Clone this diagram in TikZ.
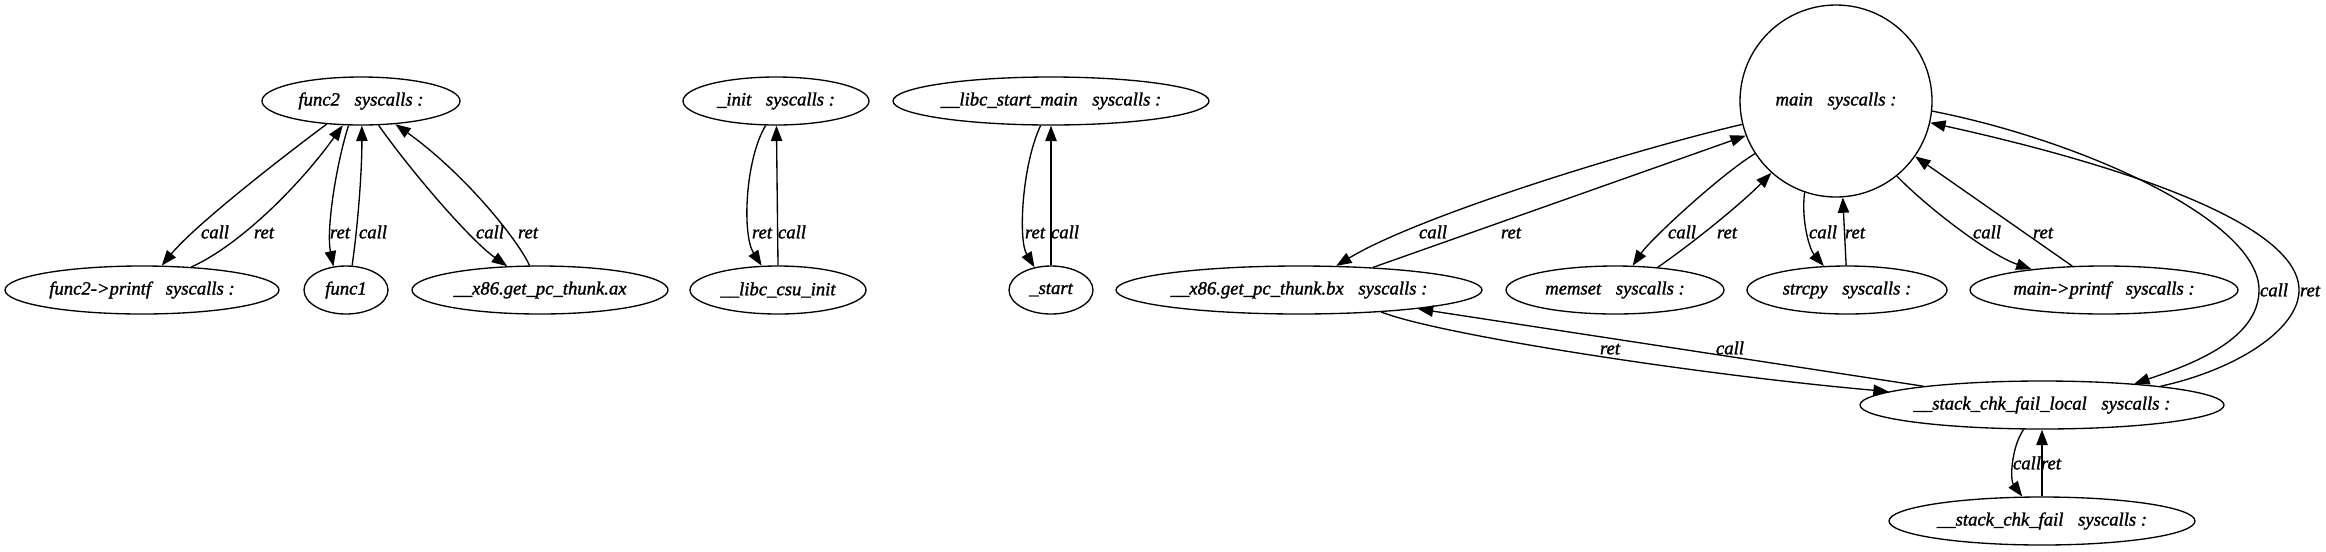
\documentclass[tikz,border=0pt]{standalone}
\usepackage{fontspec}
\setmainfont{Liberation Serif}
\newfontfamily\gvfont{Liberation Serif Italic}[FakeBold=1.4]
\usetikzlibrary{arrows.meta,shapes.geometric}
\newcommand\sg{\hspace{11pt}}
\begin{document}
\begin{tikzpicture}[x=0.75pt,y=-0.75pt,
  fn/.style={draw, ellipse, line width=1pt, inner sep=0pt,
    font=\fontsize{14pt}{16pt}\selectfont\gvfont, minimum height=36pt},
  edgeln/.style={line width=1pt, -{Triangle[length=11.5pt,width=8.5pt]}},
  lbl/.style={font=\fontsize{14pt}{16pt}\selectfont\gvfont, inner sep=0pt,
    text height=9.5pt, text depth=0pt}]
\useasboundingbox (0,0) rectangle (2326,551);

% nodes
\node[fn, minimum width=148.5pt] (func2) at (361,101) {func2\sg syscalls :};
\node[fn, minimum width=205.5pt] (fprintf) at (142,290) {func2->printf\sg syscalls :};
\node[fn, minimum width=63pt] (func1) at (346,290) {func1};
\node[fn, minimum width=192pt] (ax) at (540,290) {\_\_x86.get\_pc\_thunk.ax};
\node[fn, minimum width=139.5pt] (init) at (776,101) {\_init\sg syscalls :};
\node[fn, minimum width=132pt] (csu) at (778,290) {\_\_libc\_csu\_init};
\node[fn, minimum width=237pt] (lsm) at (1051,101) {\_\_libc\_start\_main\sg syscalls :};
\node[fn, minimum width=63pt] (start) at (1051,290) {\_start};
\node[fn, circle, minimum size=144pt] (main) at (1836,101) {main\sg syscalls :};
\node[fn, minimum width=274.5pt] (bx) at (1299,290) {\_\_x86.get\_pc\_thunk.bx\sg syscalls :};
\node[fn, minimum width=163.5pt] (memset) at (1615,290) {memset\sg syscalls :};
\node[fn, minimum width=150pt] (strcpy) at (1847,290) {strcpy\sg syscalls :};
\node[fn, minimum width=201pt] (mprintf) at (2104,290) {main->printf\sg syscalls :};
\node[fn, minimum width=273pt] (scfl) at (2042,405) {\_\_stack\_chk\_fail\_local\sg syscalls :};
\node[fn, minimum width=229.5pt] (scf) at (2042,521) {\_\_stack\_chk\_fail\sg syscalls :};

% func2 group
\draw[edgeln] (func2.214) .. controls (285,155) and (195,225) .. (fprintf.51);
\draw[edgeln] (fprintf.25) .. controls (240,245) and (300,185) .. (func2.233);
\draw[edgeln] (func2.243) .. controls (336,165) and (326,230) .. (func1.118);
\draw[edgeln] (func1.76) .. controls (358,225) and (362,170) .. (func2.272);
\draw[edgeln] (func2.306) .. controls (410,170) and (470,240) .. (ax.144);
\draw[edgeln] (ax.113) .. controls (515,235) and (460,170) .. (func2.326);
\node[lbl] (l1) at (215,232) {call};
\node[lbl] (l2) at (264,232) {ret};
\node[lbl] (l3) at (340,232) {ret};
\node[lbl] (l4) at (373,232) {call};
\node[lbl] (l5) at (490,232) {call};
\node[lbl] (l6) at (528,232) {ret};

% _init group
\draw[edgeln] (init.247) .. controls (745,160) and (742,235) .. (csu.124);
\draw[edgeln] (csu.90) -- (init.271);
\node[lbl] (l7) at (762,232) {ret};
\node[lbl] (l8) at (792,232) {call};

% __libc_start_main group
\draw[edgeln] (lsm.247) .. controls (1022,165) and (1018,240) .. (start.126);
\draw[edgeln] (start.90) -- (lsm.270);
\node[lbl] (l9) at (1035,232) {ret};
\node[lbl] (l10) at (1065,232) {call};

% main group
\draw[edgeln] (main.194) .. controls (1640,148) and (1420,215) .. (bx.33);
\draw[edgeln] (bx.17) -- (main.201.5);
\draw[edgeln] (main.213) .. controls (1720,175) and (1650,240) .. (memset.54);
\draw[edgeln] (memset.28) .. controls (1690,245) and (1740,205) .. (main.228);
\draw[edgeln] (main.251) .. controls (1801,222) and (1810,250) .. (strcpy.134);
\draw[edgeln] (strcpy.92) -- (main.274);
\draw[edgeln] (main.309) .. controls (1930,210) and (1990,255) .. (mprintf.164);
\draw[edgeln] (mprintf.143) -- (main.325);
\draw[edgeln] (main.354) .. controls (2080,140) and (2259,220) .. (2259,290)
   .. controls (2259,340) and (2190,365) .. (scfl.13);
\draw[edgeln] (scfl.9) .. controls (2235,370) and (2299,330) .. (2299,290)
   .. controls (2299,220) and (2100,160) .. (main.347);
\draw[edgeln] (bx.345) .. controls (1440,335) and (1700,375) .. (scfl.175);
\draw[edgeln] (scfl.171) -- (bx.351);
\draw[edgeln] (scfl.233) .. controls (2011,448) and (2010,480) .. (scf.129);
\draw[edgeln] (scf.90) -- (scfl.270);
\node[lbl] (l11) at (1433,232) {call};
\node[lbl] (l12) at (1511,232) {ret};
\node[lbl] (l13) at (1682,232) {call};
\node[lbl] (l14) at (1727,232) {ret};
\node[lbl] (l15) at (1823,232) {call};
\node[lbl] (l16) at (1855,232) {ret};
\node[lbl] (l17) at (1987,232) {call};
\node[lbl] (l18) at (2043,232) {ret};
\node[lbl] (l19) at (2274,290) {call};
\node[lbl] (l20) at (2310,290) {ret};
\node[lbl] (l21) at (1610,348) {ret};
\node[lbl] (l22) at (1730,348) {call};
\node[lbl] (l23) at (2027,463) {call};
\node[lbl] (l24) at (2051,463) {ret};
\end{tikzpicture}
\end{document}
